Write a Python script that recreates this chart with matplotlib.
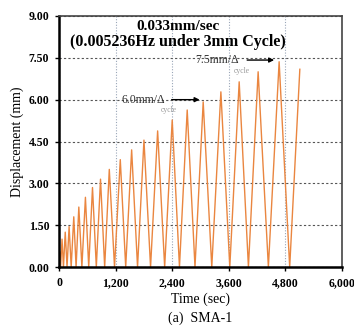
# cyclic displacement history, SMA-1

import matplotlib.pyplot as plt

# peak times (sec) and peak displacements (mm)
peak_t = [17, 64, 132, 214, 313, 420, 560, 710, 880, 1066, 1299, 1540, 1801,
          2091, 2400, 2718, 3057, 3432, 3820, 4222, 4667, 5106]
peak_d = [0.55, 1.0, 1.25, 1.45, 1.8, 2.15, 2.5, 2.85, 3.15, 3.5, 3.85, 4.2,
          4.55, 4.88, 5.27, 5.63, 5.92, 6.28, 6.64, 7.0, 7.36, 7.09]
# times where the actuator is back at zero between the peaks
valley_t = [34, 94, 170, 258, 362, 485, 630, 791, 968, 1177, 1414, 1665, 1941,
            2240, 2554, 2883, 3239, 3621, 4016, 4439, 4891]

xticks = [0, 1200, 2400, 3600, 4800, 6000]
xticklabels = ["0", "1,200", "2,400", "3,600", "4,800", "6,000"]
yticks = [0.0, 1.5, 3.0, 4.5, 6.0, 7.5, 9.0]

# build the triangle wave: 0 -> peak -> 0 -> peak ...
t = [0]
d = [0.0]
for i in range(len(peak_t)):
    t.append(peak_t[i])
    d.append(peak_d[i])
    if i < len(valley_t):
        t.append(valley_t[i])
        d.append(0.0)

plt.rcParams['font.family'] = ['Liberation Serif', 'DejaVu Serif']

fig = plt.figure(figsize=(3.54, 3.29), dpi=100)
ax = fig.add_axes([0.1667, 0.1884, 0.7994, 0.763])

ax.plot(t, d, color='#ea8640', lw=1.0)

ax.set_xlim(0, 6000)
ax.set_ylim(0, 9)
ax.set_xticks(xticks)
ax.set_xticklabels(xticklabels)
ax.set_yticks(yticks)
ax.set_yticklabels(["%.2f" % v for v in yticks])
ax.tick_params(labelsize=8.5, length=3, width=1, pad=4)
for lab in ax.get_xticklabels() + ax.get_yticklabels():
    lab.set_fontweight('bold')

ax.grid(axis='y', color='#555555', ls=(0, (2, 2)), lw=0.8)
ax.grid(axis='x', color='#9aa6b8', ls=(0, (1, 1.5)), lw=0.8)
ax.set_axisbelow(True)

for side in ['left', 'bottom']:
    ax.spines[side].set_linewidth(1.8)
    ax.spines[side].set_color('black')
for side in ['top', 'right']:
    ax.spines[side].set_linewidth(1.2)
    ax.spines[side].set_color('#444444')

ax.set_xlabel("Time (sec)", fontsize=10, labelpad=3)
ax.set_ylabel("Displacement (mm)", fontsize=10, labelpad=3)

ax.text(2520, 8.63, "0.033mm/sec", ha='center', va='center',
        fontsize=11, fontweight='bold')
ax.text(2520, 8.05, "(0.005236Hz under 3mm Cycle)", ha='center', va='center',
        fontsize=11.5, fontweight='bold')

# rate annotations with arrows
ax.annotate("", xy=(3040, 6.0), xytext=(2330, 6.0),
            arrowprops=dict(arrowstyle='-|>', color='black', lw=1.0,
                            mutation_scale=7))
ax.text(1330, 6.0, "6.0mm/\u0394", fontsize=8.5,
        va='center', ha='left', color='#333333')
ax.text(2150, 5.62, "cycle", fontsize=5.5, color='#999999', va='center')

ax.annotate("", xy=(4620, 7.42), xytext=(3930, 7.42),
            arrowprops=dict(arrowstyle='-|>', color='black', lw=1.0,
                            mutation_scale=7))
ax.text(2880, 7.42, "7.5mm/\u0394", fontsize=8.5,
        va='center', ha='left', color='#333333')
ax.text(3700, 7.04, "cycle", fontsize=5.5, color='#999999', va='center')

fig.text(0.565, 0.032, "(a)  SMA-1", fontsize=10, ha='center', va='center')

plt.savefig("out.png", dpi=100)
